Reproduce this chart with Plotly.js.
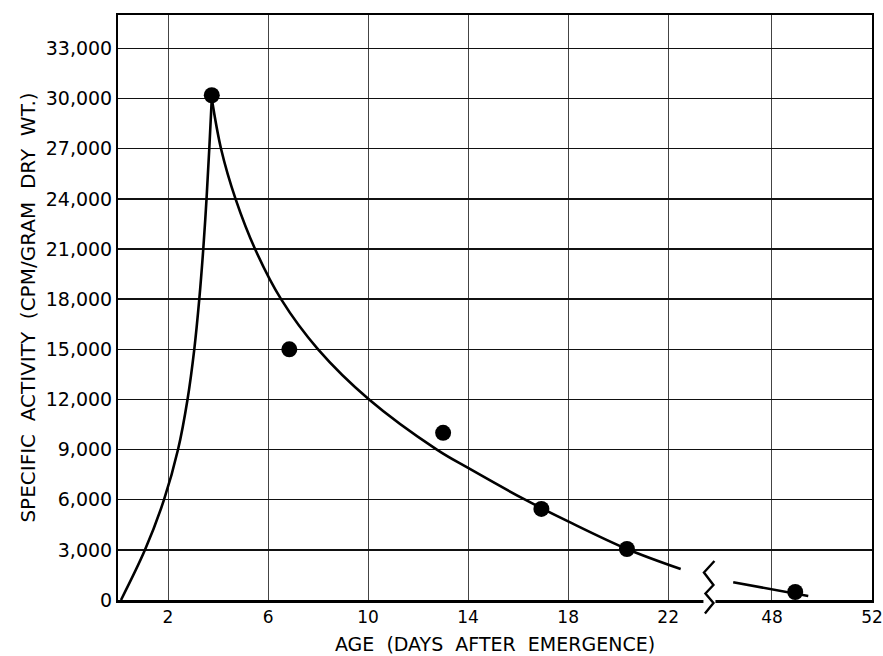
<!DOCTYPE html>
<html>
<head>
<meta charset="utf-8">
<script src="https://cdn.plot.ly/plotly-3.0.1.min.js"></script>
<style>html,body{margin:0;padding:0;background:#fff;}#chart{width:883px;height:656px;}</style>
</head>
<body>
<div id="chart"></div>
<script>
// ---- data (age in days after emergence, specific activity in CPM/gram dry wt.) ----
const riseAge = [0.12, 1.08, 1.84, 2.40, 2.78, 3.05, 3.25, 3.41, 3.54, 3.65, 3.75];
const riseActivity = [0, 3000, 6000, 9000, 12000, 15000, 18000, 21000, 24000, 27000, 30000];
const decayAge = [3.75, 4.12, 4.70, 5.48, 6.52, 8.0, 10.04, 12.75, 14.0, 16.28, 18.0, 20.35, 22.5];
const decayActivity = [30000, 27000, 24000, 21000, 18000, 15000, 12000, 9000, 7900, 6000, 4700, 3050, 1850];
const tailAge = [46.45, 49.45];
const tailActivity = [1060, 240];
const pointAge = [3.75, 6.85, 13.0, 16.93, 20.35, 48.93];
const pointActivity = [30200, 15000, 10000, 5450, 3050, 480];
const xTickAges = [2, 6, 10, 14, 18, 22, 48, 52];
const yTickVals = [0, 3000, 6000, 9000, 12000, 15000, 18000, 21000, 24000, 27000, 30000, 33000];
const yTickText = ['0', '3,000', '6,000', '9,000', '12,000', '15,000', '18,000', '21,000', '24,000', '27,000', '30,000', '33,000'];

// ---- axis break: ages beyond the break are shifted left ----
const BREAK_AT = 24, BREAK_SHIFT = 21.85, BREAK_POS = 23.65;
const pos = a => a > BREAK_AT ? a - BREAK_SHIFT : a;
const X_MAX = pos(52);
const Y_MAX = 35000;

const M = {l: 118, r: 11, t: 15, b: 56};
const W = 883, H = 656;
const PW = W - M.l - M.r, PH = H - M.t - M.b;
const px2paperX = dx => dx / PW;
const px2paperY = dy => dy / PH;

const lineStyle = {color: '#000', width: 2.6};
const traces = [
  {x: riseAge.map(pos), y: riseActivity, mode: 'lines', line: Object.assign({shape: 'spline', smoothing: 1}, lineStyle), hoverinfo: 'skip'},
  {x: decayAge.map(pos), y: decayActivity, mode: 'lines', line: Object.assign({shape: 'spline', smoothing: 1}, lineStyle), hoverinfo: 'skip'},
  {x: tailAge.map(pos), y: tailActivity, mode: 'lines', line: lineStyle, hoverinfo: 'skip'},
  {x: pointAge.map(pos), y: pointActivity, mode: 'markers', marker: {color: '#000', size: 16}, cliponaxis: false}
];

// zigzag break symbol (pixel offsets relative to break position / axis line)
const zig = [[5, 39], [-5.5, 27.5], [4, 15], [-4, 6.5], [4, -3], [-4.5, -13.5]];
const bx = BREAK_POS / X_MAX;
const zpath = zig.map((p, i) => (i ? 'L' : 'M') + (bx + px2paperX(p[0])).toFixed(5) + ',' + px2paperY(p[1]).toFixed(5)).join(' ');

const layout = {
  width: W, height: H,
  margin: M,
  paper_bgcolor: '#fff', plot_bgcolor: '#fff',
  showlegend: false,
  font: {family: 'DejaVu Sans, sans-serif', color: '#000'},
  xaxis: {
    range: [0, X_MAX],
    tickvals: xTickAges.map(pos),
    ticktext: xTickAges.map(String),
    ticks: '',
    tickfont: {size: 17, color: '#000'},
    showgrid: true, gridcolor: '#444', gridwidth: 1,
    showline: true, linecolor: '#000', linewidth: 2.5, mirror: true,
    zeroline: false,
    title: {text: 'AGE  (DAYS  AFTER  EMERGENCE)', font: {size: 19, color: '#000'}, standoff: 12}
  },
  yaxis: {
    range: [0, Y_MAX],
    tickvals: yTickVals,
    ticktext: yTickText,
    ticks: '',
    tickfont: {size: 19, color: '#000'},
    showgrid: true, gridcolor: '#111', gridwidth: 1.3,
    showline: true, linecolor: '#000', linewidth: 2, mirror: true,
    zeroline: false,
    title: {text: 'SPECIFIC  ACTIVITY  (CPM/GRAM  DRY  WT.)', font: {size: 20, color: '#000'}, standoff: 5}
  },
  shapes: [
    {type: 'rect', xref: 'paper', yref: 'paper', layer: 'above',
     x0: bx - px2paperX(6), x1: bx + px2paperX(6), y0: px2paperY(-3), y1: px2paperY(3),
     fillcolor: '#fff', line: {width: 0}},
    {type: 'path', xref: 'paper', yref: 'paper', layer: 'above', path: zpath,
     line: {color: '#000', width: 2.4}}
  ]
};

Plotly.newPlot('chart', traces, layout, {staticPlot: true});
</script>
</body>
</html>
